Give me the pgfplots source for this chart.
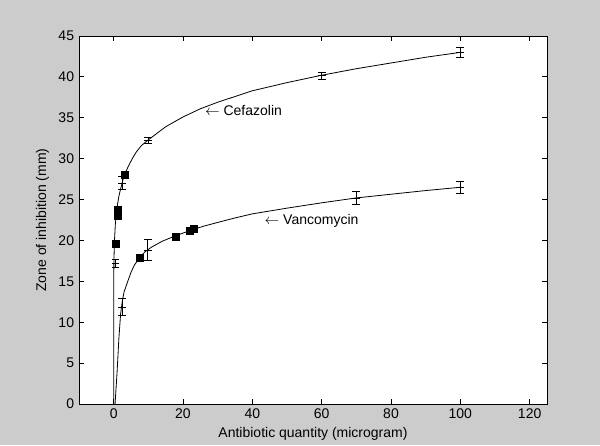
\documentclass[border=0pt]{standalone}
\usepackage{pgfplots}
\pgfplotsset{compat=1.18}
\usepackage{fontspec}
\setmainfont{Liberation Sans}
\definecolor{figgray}{RGB}{204,204,204}
\begin{document}
\fontsize{10.5pt}{12pt}\selectfont
\begin{tikzpicture}
\fill[figgray] (0,0) rectangle (450pt,333.75pt);
\begin{axis}[
  at={(59.25pt,30.75pt)}, anchor=south west,
  scale only axis, width=351pt, height=276pt,
  xmin=-10, xmax=125, ymin=0, ymax=45,
  xtick={0,20,...,120}, ytick={0,5,...,45},
  tick align=inside, major tick length=4pt,
  axis background/.style={fill=white},
  axis line style={line width=0.6pt},
  every tick/.style={black, line width=0.6pt},
  /pgf/number format/assume math mode=true,
  tick label style={font=\fontsize{10.5pt}{12pt}\selectfont},
  every axis x label/.style={at={(axis description cs:0.5,-0.0917)}, anchor=base, font=\fontsize{10.5pt}{12pt}\selectfont},
  every axis y label/.style={at={(axis description cs:-0.0705,0.5)}, rotate=90, anchor=base, font=\fontsize{10.5pt}{12pt}\selectfont},
  xlabel={Antibiotic quantity (microgram)},
  ylabel={Zone of inhibition (mm)},
]
% Cefazolin fitted curve
\addplot[black, line width=0.6pt] coordinates {
  (0,0) (0.002,11) (0.02,14.9) (0.07,17.3) (0.2,19.7) (0.5,22.1) (1,24.1)
  (1.5,25.4) (2,26.3) (2.8,27.6) (3.5,28.4) (4.5,29.3) (5.5,30.1) (6.5,30.8)
  (8,31.6) (10,32.3) (12.5,33.1) (15,33.9) (17.5,34.5) (20,35.1) (25,36.1)
  (30,36.9) (35,37.6) (40,38.3) (50,39.3) (60,40.2) (70,41.0)
  (80,41.7) (90,42.4) (100,43.0)
};
% Vancomycin fitted curve
\addplot[black, line width=0.6pt] coordinates {
  (0.4,0) (1.0,4) (1.5,8) (2.0,11) (2.5,12.6) (3.0,13.7) (3.9,14.8) (5.0,16.1)
  (6,17.0) (7.5,17.9) (9,18.6) (11,19.2) (14,19.9) (18,20.6) (23,21.35)
  (26,21.75) (30,22.2) (35,22.75) (40,23.25) (45,23.6) (50,23.95)
  (60,24.6) (70,25.2) (80,25.65) (90,26.1) (100,26.5)
};
% square data points
\addplot[only marks, mark=square*, mark size=2.6pt, black] coordinates {
  (0.5,19.6) (1.2,23.0) (1.2,23.7) (3.2,28.0)
  (7.5,17.9) (17.8,20.5) (21.9,21.2) (23.1,21.4)
};
% error-bar data points
\addplot[only marks, mark=-, mark size=2.9pt, black,
  error bars/.cd, y dir=both, y explicit,
  error bar style={line width=0.6pt, black},
  error mark options={rotate=90, mark size=2.9pt, line width=0.6pt, black}]
  coordinates {
  (0.5,17.2) +- (0,0.5)
  (2.4,27.0) +- (0,0.8)
  (9.9,32.25) +- (0,0.35)
  (60,40.15) +- (0,0.45)
  (100,43.0) +- (0,0.6)
  (2.4,11.85) +- (0,1.05)
  (9.8,18.85) +- (0,1.25)
  (70,25.2) +- (0,0.8)
  (100,26.5) +- (0,0.7)
};
\node[anchor=west, inner sep=0pt, font=\fontsize{10.5pt}{12pt}\selectfont] at (axis cs:26.3,35.9) {$\leftarrow$ Cefazolin};
\node[anchor=west, inner sep=0pt, font=\fontsize{10.5pt}{12pt}\selectfont] at (axis cs:43.5,22.4) {$\leftarrow$ Vancomycin};
\end{axis}
\end{tikzpicture}
\end{document}
